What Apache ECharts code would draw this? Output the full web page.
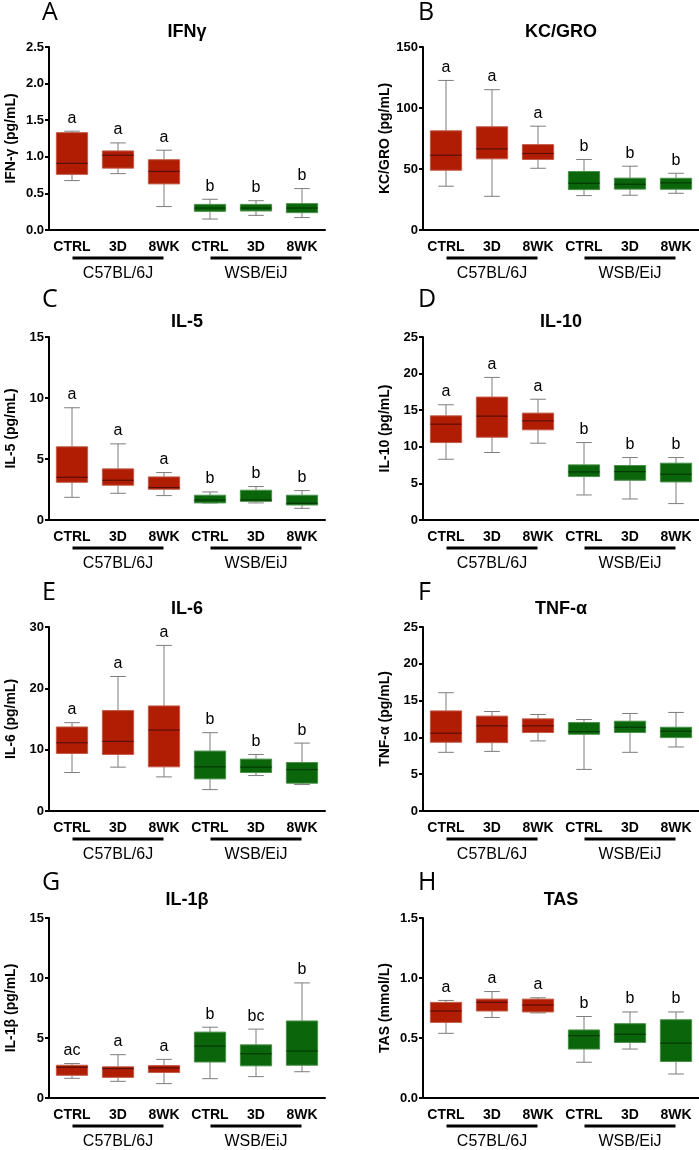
<!DOCTYPE html>
<html>
<head>
<meta charset="utf-8">
<script src="https://cdn.jsdelivr.net/npm/echarts@6/dist/echarts.min.js"></script>
<style>
html,body{margin:0;padding:0;background:#fff;}
#chart{width:699px;height:1150px;}
</style>
</head>
<body>
<div id="chart"></div>
<script>
// ---- data ----
const categories = ['CTRL', '3D', '8WK', 'CTRL', '3D', '8WK'];
const strains = ['C57BL/6J', 'WSB/EiJ'];
const panelLetters = ['A', 'B', 'C', 'D', 'E', 'F', 'G', 'H'];
const panelTitles = ['IFNγ', 'KC/GRO', 'IL-5', 'IL-10', 'IL-6', 'TNF-α', 'IL-1β', 'TAS'];
const yNames = ['IFN-γ (pg/mL)', 'KC/GRO (pg/mL)', 'IL-5 (pg/mL)', 'IL-10 (pg/mL)', 'IL-6 (pg/mL)', 'TNF-α (pg/mL)', 'IL-1β (pg/mL)', 'TAS (mmol/L)'];
const yMax = [2.5, 150, 15, 25, 30, 25, 15, 1.5];
const yStep = [0.5, 50, 5, 5, 10, 5, 5, 0.5];
const yDecimals = [1, 0, 0, 0, 0, 0, 0, 1];

// each box: [min, Q1, median, Q3, max]
const ifng = [[0.675, 0.76, 0.91, 1.33, 1.35], [0.77, 0.845, 1.02, 1.08, 1.19], [0.32, 0.63, 0.80, 0.96, 1.09], [0.15, 0.255, 0.30, 0.35, 0.42], [0.20, 0.26, 0.30, 0.35, 0.40], [0.17, 0.237, 0.30, 0.36, 0.566]];
const kcgro = [[35.9, 49, 61.3, 81.3, 122.6], [27.6, 58.3, 66.5, 84.6, 115], [50.6, 57.8, 62.7, 70, 85.1], [28.2, 33.1, 38.3, 47.9, 57.8], [28.5, 33.5, 37.5, 42.5, 52.3], [30.1, 33.4, 38.6, 42.4, 46.5]];
const il5 = [[1.86, 3.09, 3.5, 6.0, 9.2], [2.19, 2.85, 3.26, 4.19, 6.24], [2.0, 2.52, 2.66, 3.53, 3.89], [1.40, 1.40, 1.64, 2.03, 2.3], [1.40, 1.53, 1.64, 2.44, 2.74], [0.96, 1.23, 1.37, 2.03, 2.41]];
const il10 = [[8.3, 10.58, 13.09, 14.23, 15.74], [9.22, 11.31, 14.19, 16.79, 19.48], [10.49, 12.32, 13.55, 14.6, 16.5], [3.42, 5.93, 6.57, 7.53, 10.58], [2.87, 5.43, 6.61, 7.44, 8.53], [2.24, 5.2, 6.25, 7.76, 8.53]];
const il6 = [[6.27, 9.38, 11.13, 13.7, 14.4], [7.15, 9.22, 11.35, 16.37, 21.93], [5.56, 7.2, 13.2, 17.13, 27.0], [3.49, 5.24, 7.2, 9.77, 12.77], [5.78, 6.27, 7.15, 8.46, 9.22], [4.31, 4.53, 6.76, 7.9, 11.07]];
const tnfa = [[7.97, 9.34, 10.56, 13.6, 16.07], [8.1, 9.29, 11.57, 12.89, 13.52], [9.52, 10.66, 11.57, 12.52, 13.11], [5.65, 10.43, 10.79, 12.02, 12.43], [7.97, 10.66, 11.38, 12.2, 13.25], [8.7, 9.97, 10.84, 11.38, 13.39]];
const il1b = [[1.64, 1.89, 2.57, 2.73, 2.87], [1.39, 1.72, 2.46, 2.60, 3.61], [1.20, 2.13, 2.51, 2.70, 3.22], [1.61, 3.0, 4.32, 5.49, 5.9], [1.78, 2.68, 3.69, 4.43, 5.74], [2.19, 2.73, 3.91, 6.42, 9.59]];
const tas = [[0.539, 0.63, 0.725, 0.797, 0.813], [0.671, 0.725, 0.797, 0.824, 0.887], [0.709, 0.717, 0.775, 0.824, 0.835], [0.298, 0.408, 0.52, 0.567, 0.679], [0.408, 0.463, 0.531, 0.619, 0.717], [0.20, 0.304, 0.457, 0.652, 0.717]];

const ifngLetters = ['a', 'a', 'a', 'b', 'b', 'b'];
const kcgroLetters = ['a', 'a', 'a', 'b', 'b', 'b'];
const il5Letters = ['a', 'a', 'a', 'b', 'b', 'b'];
const il10Letters = ['a', 'a', 'a', 'b', 'b', 'b'];
const il6Letters = ['a', 'a', 'a', 'b', 'b', 'b'];
const tnfaLetters = ['', '', '', '', '', ''];
const il1bLetters = ['ac', 'a', 'a', 'b', 'bc', 'b'];
const tasLetters = ['a', 'a', 'a', 'b', 'b', 'b'];

const allData = [ifng, kcgro, il5, il10, il6, tnfa, il1b, tas];
const allLetters = [ifngLetters, kcgroLetters, il5Letters, il10Letters, il6Letters, tnfaLetters, il1bLetters, tasLetters];

// ---- style / layout ----
const FONT = '"Liberation Sans", Arial, sans-serif';
const colLeft = [49, 423];
const rowTop = [47, 337, 627, 918];
const rowHeight = [183, 183, 184, 183];
const gridW = 276;
const titleTop = [23, 313, 600, 891];
const letterTop = [0, 287, 580, 870];
const letterLeft = [42, 418];
const RED = {fill: '#b01d02', border: '#c25a48', median: '#5a0e00'};
const GREEN = {fill: '#0b650b', border: '#4a8f4a', median: '#033a03'};
const WHISKER = '#7d7d7d';

function makeRender(letters) {
  return function (params, api) {
    const x = api.value(0);
    const mn = api.value(1), q1 = api.value(2), md = api.value(3), q3 = api.value(4), mx = api.value(5);
    const pal = api.value(6) ? GREEN : RED;
    const band = api.size([1, 0])[0];
    const bw = band * 0.68, cw = band * 0.34;
    const cx = api.coord([x, md])[0];
    const yMin = api.coord([x, mn])[1];
    const yQ1 = api.coord([x, q1])[1];
    const yMd = api.coord([x, md])[1];
    const yQ3 = api.coord([x, q3])[1];
    const yMx = api.coord([x, mx])[1];
    const ls = {stroke: WHISKER, lineWidth: 1};
    const children = [
      {type: 'line', shape: {x1: cx, y1: yQ3, x2: cx, y2: yMx}, style: ls},
      {type: 'line', shape: {x1: cx - cw / 2, y1: yMx, x2: cx + cw / 2, y2: yMx}, style: ls},
      {type: 'line', shape: {x1: cx, y1: yQ1, x2: cx, y2: yMin}, style: ls},
      {type: 'line', shape: {x1: cx - cw / 2, y1: yMin, x2: cx + cw / 2, y2: yMin}, style: ls},
      {type: 'rect', shape: {x: cx - bw / 2, y: yQ3, width: bw, height: Math.max(yQ1 - yQ3, 1)},
        style: {fill: pal.fill, stroke: pal.border, lineWidth: 1}},
      {type: 'line', shape: {x1: cx - bw / 2, y1: yMd, x2: cx + bw / 2, y2: yMd},
        style: {stroke: pal.median, lineWidth: 1.2}}
    ];
    const lt = letters[params.dataIndex];
    if (lt) {
      children.push({type: 'text', style: {text: lt, x: cx, y: yMx - 5, align: 'center', verticalAlign: 'bottom',
        fontSize: 16, fontFamily: FONT, fill: '#000'}});
    }
    return {type: 'group', children: children};
  };
}

const grids = [], xAxes = [], yAxes = [], series = [], titles = [];
for (let p = 0; p < 8; p++) {
  const col = p % 2, row = Math.floor(p / 2);
  grids.push({left: colLeft[col], top: rowTop[row], width: gridW, height: rowHeight[row], containLabel: false});
  xAxes.push({
    type: 'category', gridIndex: p, data: categories,
    axisLine: {lineStyle: {color: '#000', width: 2}},
    axisTick: {alignWithLabel: true, length: 4, lineStyle: {color: '#000', width: 1.5}},
    axisLabel: {
      interval: 0, margin: 9, color: '#000',
      formatter: function (v, i) {
        if (i % 3 === 1) {
          return '{c|' + v + '}\n{ln|}\n{g|' + strains[Math.floor(i / 3)] + '}';
        }
        return '{c|' + v + '}';
      },
      rich: {
        c: {fontSize: 14, fontWeight: 'bold', fontFamily: FONT, color: '#000', lineHeight: 16},
        ln: {width: 91, height: 3, backgroundColor: '#000', lineHeight: 6},
        g: {fontSize: 16, fontFamily: FONT, color: '#000', lineHeight: 26}
      }
    },
    splitLine: {show: false}
  });
  const dec = yDecimals[p];
  yAxes.push({
    type: 'value', gridIndex: p, min: 0, max: yMax[p], interval: yStep[p],
    name: yNames[p], nameLocation: 'middle', nameGap: 31,
    nameTextStyle: {fontSize: 14, fontWeight: 'bold', fontFamily: FONT, color: '#000'},
    axisLine: {show: true, lineStyle: {color: '#000', width: 2}},
    axisTick: {show: true, length: 4, lineStyle: {color: '#000', width: 2}},
    axisLabel: {margin: 5, fontSize: 13, fontWeight: 'bold', fontFamily: FONT, color: '#000',
      formatter: function (v) { return v.toFixed(dec); }},
    splitLine: {show: false}
  });
  series.push({
    type: 'custom', xAxisIndex: p, yAxisIndex: p,
    renderItem: makeRender(allLetters[p]),
    encode: {x: 0, y: [1, 2, 3, 4, 5]},
    data: allData[p].map(function (v, i) { return [i].concat(v).concat([i < 3 ? 0 : 1]); }),
    clip: false, silent: true
  });
  titles.push({
    text: panelTitles[p], left: colLeft[col] + gridW / 2, top: titleTop[row], textAlign: 'center', padding: 0,
    textStyle: {fontSize: 18, fontWeight: 'bold', fontFamily: FONT, color: '#000'}
  });
  titles.push({
    text: panelLetters[p], left: letterLeft[col], top: letterTop[row], padding: 0,
    textStyle: {fontSize: 25, fontWeight: 'normal', fontFamily: '"Open Sans", "Noto Sans", sans-serif', color: '#000'}
  });
}

const chart = echarts.init(document.getElementById('chart'), null, {renderer: 'canvas'});
chart.setOption({
  backgroundColor: '#fff',
  animation: false,
  title: titles,
  grid: grids,
  xAxis: xAxes,
  yAxis: yAxes,
  series: series
});
</script>
</body>
</html>
